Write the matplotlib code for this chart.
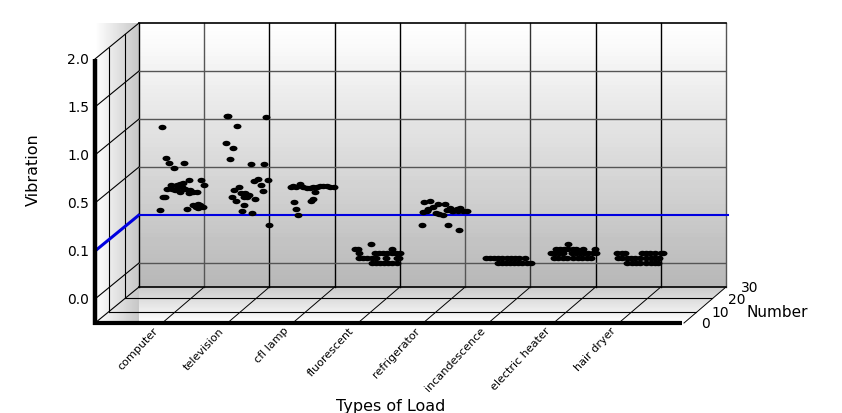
import numpy as np
import matplotlib
matplotlib.use('Agg')
import matplotlib.pyplot as plt
from matplotlib.patches import Polygon
from matplotlib.path import Path
from matplotlib.transforms import Affine2D

# nama beban dan label sumbu
load_names = ['computer', 'television', 'cfl lamp', 'fluorescent', 'refrigerator',
              'incandescence', 'electric heater', 'hair dryer']
value_ticks = [0.0, 0.1, 0.5, 1.0, 1.5, 2.0]
number_ticks = [0, 10, 20, 30]
threshold = 0.1

# posisi horizontal (0-587 sepanjang dinding belakang) dan nilai tiap titik
computer_x = [22.7, 27.3, 30, 34.7, 45.3, 50, 61.7, 65, 31.7, 28.3, 33.3, 37.7, 41, 44.3, 36, 41, 39.3,
              42.7, 46, 51, 54.3, 57.7, 50.3, 26, 23.7, 21.3, 48.3, 53.7, 56.7, 59.3, 61, 63.7, 58.7]
computer_y = [.92, .59, .54, .49, .54, .39, .39, .35, .35, .32, .32, .35, .36, .37, .31, .29, .33,
              .33, .32, .31, .29, .29, .28, .25, .25, .14, .15, .18, .17, .19, .18, .17, .16]
television_x = [89.3, 87.7, 127, 98.3, 86.7, 94.3, 91.3, 112, 125.3, 128.7, 119.3, 115, 121.7, 124,
                100, 95.3, 101.7, 106, 110, 105, 108.3, 92.7, 97, 116.3, 104.7, 103, 113.3, 130.3]
television_y = [1.03, 1.03, 1.02, .93, .75, .70, .58, .53, .53, .39, .40, .38, .35, .30,
                .33, .31, .28, .28, .27, .25, .25, .25, .22, .23, .18, .13, .12, .08]
cfl_x = [151.7, 154.3, 161, 164.3, 167.7, 171, 174.3, 177.7, 181, 184.3, 187.7, 191, 195,
         157, 176, 174.3, 172.3, 155, 156.7, 159.3]
cfl_y = [.335, .34, .357, .33, .326, .326, .335, .335, .343, .343, .343, .335, .33,
         .335, .29, .23, .22, .21, .15, .10]
fluorescent_x = [232.3, 216, 219.3, 253, 220.3, 236, 240, 244.3, 248.3, 252.7, 256.7, 261,
                 220.3, 224.3, 228.3, 232.7, 236.7, 247, 257.7, 260.3,
                 232.7, 236.7, 241, 245, 249.3, 253.3, 257.7]
fluorescent_y = [.04, .03, .03, .03, .02, .02, .02, .02, .02, .02, .02, .02,
                 .01, .01, .01, .01, .01, .01, .01, .01,
                 0, 0, 0, 0, 0, 0, 0]
refrigerator_x = [285, 291, 299.3, 306, 294.3, 289.3, 284.3, 287.7, 296.7, 300, 304.3, 307.7, 311,
                  314.3, 317.7, 321, 324.3, 327.7, 312.7, 319.3, 282.7, 309.3, 319.7]
refrigerator_y = [.21, .22, .19, .19, .17, .15, .125, .13, .12, .11, .10, .14, .155,
                  .13, .15, .155, .13, .13, .13, .13, .079, .079, .069]
incandescence_x = [346.7, 351, 355, 359.3, 363.3, 367.7, 371.7, 376, 380, 386,
                   358.7, 362.7, 366.7, 371, 375, 379.3, 383.3, 387.7, 391.7]
incandescence_y = [.01] * 10 + [0] * 9
heater_x = [429.3, 416.7, 421, 425.3, 429.3, 433.7, 436.7, 444.3, 456,
            412, 416, 420.3, 424.3, 432.7, 436.7, 441, 445.3, 449.3, 453.7, 456.7,
            415, 419.3, 423.7, 427.7, 434.3, 438.7, 442.7, 447.7, 451.7]
heater_y = [.04] + [.03] * 8 + [.02] * 11 + [.01] * 9
dryer_x = [477.7, 482.7, 486, 502.7, 507, 511, 516, 521.7, 523.7,
           479.3, 482.7, 487.7, 491.7, 496, 501, 507, 511.7, 516, 520.3,
           488.3, 492.7, 496.7, 501, 507, 511.7, 516, 519.3]
dryer_y = [.02] * 9 + [.01] * 10 + [0] * 8

all_x = [computer_x, television_x, cfl_x, fluorescent_x, refrigerator_x, incandescence_x, heater_x, dryer_x]
all_y = [computer_y, television_y, cfl_y, fluorescent_y, refrigerator_y, incandescence_y, heater_y, dryer_y]

W, H = 842, 414
# kotak dinding belakang dalam piksel, dan geseran kedalaman
L, R, T, B = 139, 726, 24, 288
DX, DY = 44, 36
CELL = (R - L) / 9

fig = plt.figure(figsize=(W / 100, H / 100), dpi=100)
plt.rcParams['font.family'] = ['DejaVu Sans']

# kanvas piksel untuk dinding, lantai dan label
bg = fig.add_axes([0, 0, 1, 1], zorder=1)
bg.axis('off')

grad_v = np.linspace(1, 0.72, 64).reshape(-1, 1)
bg.imshow(grad_v, cmap='gray', vmin=0, vmax=1, extent=[L, R, B, T], aspect='auto', zorder=1)

grad_f = np.linspace(0.8, 1, 32).reshape(-1, 1)
floor = bg.imshow(grad_f, cmap='gray', vmin=0, vmax=1, extent=[L, R, B + DY, B], aspect='auto', zorder=1)
floor.set_clip_path(Polygon([(L, B), (R, B), (R - DX, B + DY), (L, B + DY)], transform=bg.transData))

grad_h = np.linspace(1, 0.78, 64).reshape(1, -1)
bg.imshow(grad_h, cmap='gray', vmin=0, vmax=1, extent=[L - DX, L, B + DY, T], aspect='auto', zorder=1)
bg.set_xlim(0, W)
bg.set_ylim(H, 0)

# garis dinding kiri dan lantai
wall_rows = [T + 48 * i for i in range(6)] + [B]
for y in wall_rows:
    if y != T + 192:
        bg.plot([L - DX, L], [y + DY, y], color='black', lw=0.8, zorder=2)
for frac in [0.31, 0.69]:
    x = L - DX + DX * frac
    top = T + DY * (1 - frac)
    bottom = B + DY * (1 - frac)
    bg.plot([x, x], [top, bottom], color='black', lw=0.8, zorder=2)
    bg.plot([x, x + R - L], [bottom, bottom], color='black', lw=0.8, zorder=2)
for k in range(1, 10):
    x = L + CELL * k
    bg.plot([x, x - DX + 2], [B, B + DY], color='black', lw=0.7, zorder=2)

# garis biru di dinding kiri dan sumbu depan yang tebal
bg.plot([L - DX, L], [T + 228, T + 192], color='#0000e0', lw=2.2, zorder=3)
bg.plot([L - DX, L - DX], [T + DY, B + DY + 2], color='black', lw=3.2, solid_capstyle='butt', zorder=4)
bg.plot([L - DX - 2, R - DX], [B + DY, B + DY], color='black', lw=3.0, solid_capstyle='butt', zorder=4)

# label sumbu nilai, sumbu kedalaman dan kategori
val_pos = {0.0: 300, 0.1: 252, 0.5: 204, 1.0: 156, 1.5: 108, 2.0: 60}
for v in value_ticks:
    bg.text(89, val_pos[v], f'{v:.1f}', ha='right', va='center', fontsize=10, color='black', zorder=5)
for n, x, y in zip(number_ticks, [706, 720, 737, 750], [324, 313, 300, 288]):
    bg.text(x, y, str(n), ha='center', va='center', fontsize=10, color='black', zorder=5)
bg.text(747, 312.5, 'Number', ha='left', va='center', fontsize=11, color='black', zorder=5)
bg.text(391, 407, 'Types of Load', ha='center', va='center', fontsize=11.5, color='black', zorder=5)
bg.text(33, 170, 'Vibration', ha='center', va='center', rotation=90, fontsize=11.5, color='black', zorder=5)
for k, name in enumerate(load_names):
    bg.text(153 + 65.3 * k, 326, name, ha='right', va='top', rotation=47, rotation_mode='anchor',
            fontsize=8, color='black', zorder=5)

# dinding belakang: sumbu data dengan skala nilai yang tidak linear
wall = fig.add_axes([L / W, (H - B) / H, (R - L) / W, (B - T) / H], zorder=2)
wall.patch.set_alpha(0)
value_knots = [-0.05, 0.0, 0.1, 0.5, 1.0, 1.5, 2.0]
step_knots = [-0.5, 0, 1, 2, 3, 4, 5]
wall.set_yscale('function', functions=(lambda v: np.interp(v, value_knots, step_knots),
                                       lambda s: np.interp(s, step_knots, value_knots)))
wall.set_xlim(0, R - L)
wall.set_ylim(-0.05, 2.0)
wall.set_xticks([])
wall.set_yticks([])
for s in wall.spines.values():
    s.set_visible(False)

# warna grid mengikuti gambar, ada yang abu-abu ada yang hitam
v_colors = ['black', '#555555', 'black', 'black', 'black', '#555555', '#333333', 'black', 'black', '#555555']
for k, c in enumerate(v_colors):
    wall.axvline(CELL * k, color=c, lw=1.0, zorder=1, clip_on=False)
wall.axhline(2.0, color='black', lw=1.2, zorder=1, clip_on=False)
for v in [1.5, 1.0, 0.5, 0.0]:
    wall.axhline(v, color='#555555', lw=1.0, zorder=1)
wall.axhline(-0.05, color='black', lw=1.2, zorder=1, clip_on=False)
wall.plot([0, R - L + 2], [threshold, threshold], color='#0000e0', lw=1.5, zorder=2, clip_on=False)

dot = Path.unit_circle().transformed(Affine2D().scale(1, 0.68))
for xs, ys in zip(all_x, all_y):
    wall.scatter(xs, ys, marker=dot, s=33, color='black', linewidths=0, zorder=3, clip_on=False)

fig.savefig('out.png', dpi=100)
